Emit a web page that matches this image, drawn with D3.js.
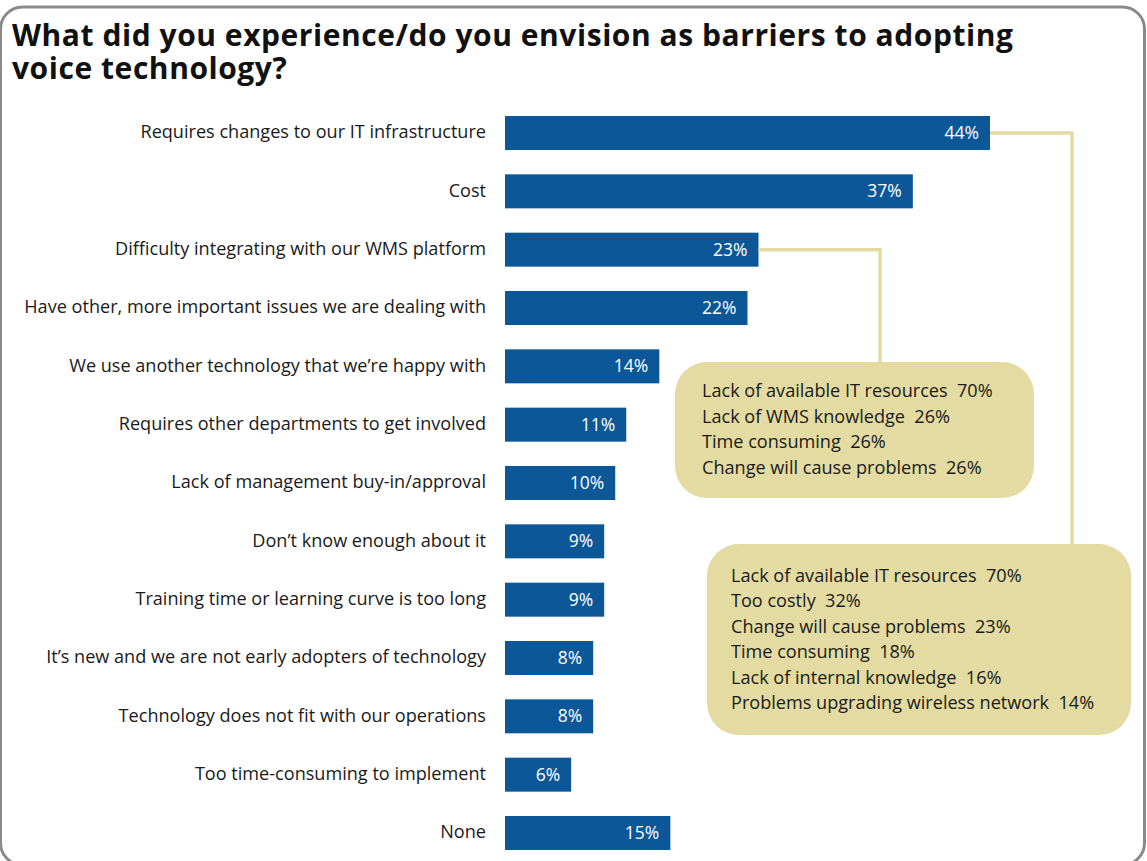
<!DOCTYPE html>
<html>
<head>
<meta charset="utf-8">
<script src="https://cdn.jsdelivr.net/npm/d3@7"></script>
<style>
  body { margin: 0; background: #fff; }
  svg { display: block; font-family: "Open Sans", "Noto Sans", sans-serif; }
</style>
</head>
<body>
<div id="chart"></div>
<script>
var titleLines = ["What did you experience/do you envision as barriers to adopting",
                  "voice technology?"];

var categories = [
  "Requires changes to our IT infrastructure",
  "Cost",
  "Difficulty integrating with our WMS platform",
  "Have other, more important issues we are dealing with",
  "We use another technology that we\u2019re happy with",
  "Requires other departments to get involved",
  "Lack of management buy-in/approval",
  "Don\u2019t know enough about it",
  "Training time or learning curve is too long",
  "It\u2019s new and we are not early adopters of technology",
  "Technology does not fit with our operations",
  "Too time-consuming to implement",
  "None"
];
var values = [44, 37, 23, 22, 14, 11, 10, 9, 9, 8, 8, 6, 15];

// follow-up breakdowns attached to two of the bars
var wmsBreakdown = [
  "Lack of available IT resources  70%",
  "Lack of WMS knowledge  26%",
  "Time consuming  26%",
  "Change will cause problems  26%"
];
var infraBreakdown = [
  "Lack of available IT resources  70%",
  "Too costly  32%",
  "Change will cause problems  23%",
  "Time consuming  18%",
  "Lack of internal knowledge  16%",
  "Problems upgrading wireless network  14%"
];

var W = 1147, H = 861;
var barColor = "#0c5797", calloutFill = "#e3dba1", calloutLine = "#e3dba1";

var svg = d3.select("#chart").append("svg")
    .attr("width", W).attr("height", H);

// frame, bottom edge runs just past the picture
svg.append("rect")
    .attr("x", 0.5).attr("y", 7).attr("width", 1144).attr("height", 858)
    .attr("rx", 22).attr("ry", 22)
    .attr("fill", "#fff").attr("stroke", "#8a8a8a").attr("stroke-width", 3);

svg.append("g").selectAll("text")
    .data(titleLines).join("text")
    .attr("x", 12).attr("y", function(d, i) { return 46 + i * 33; })
    .attr("font-size", 30).attr("font-weight", "bold").attr("fill", "#111")
    .attr("letter-spacing", 0.55)
    .text(function(d) { return d; });

var x = d3.scaleLinear().domain([0, 44]).range([505, 990]);
var y = d3.scaleBand().domain(categories).range([116, 850]).paddingInner(24.33 / 58.33).paddingOuter(0);

var rows = svg.append("g").selectAll("g")
    .data(categories).join("g");

rows.append("rect")
    .attr("x", x(0))
    .attr("y", function(d) { return y(d); })
    .attr("width", function(d, i) { return x(values[i]) - x(0); })
    .attr("height", y.bandwidth())
    .attr("fill", barColor);

rows.append("text")
    .attr("x", 486)
    .attr("y", function(d) { return y(d) + y.bandwidth() / 2 - 1; })
    .attr("dy", "0.35em")
    .attr("text-anchor", "end")
    .attr("font-size", 18.1).attr("fill", "#1a1a1a")
    .text(function(d) { return d; });

rows.append("text")
    .attr("x", function(d, i) { return x(values[i]) - 11; })
    .attr("y", function(d) { return y(d) + y.bandwidth() / 2; })
    .attr("dy", "0.35em")
    .attr("text-anchor", "end")
    .attr("font-size", 17.5).attr("fill", "#fff")
    .text(function(d, i) { return values[i] + "%"; });

function callout(cat, elbowX, box, lines) {
  var cy = y(cat) + y.bandwidth() / 2;
  var v = values[categories.indexOf(cat)];
  svg.append("path")
      .attr("d", "M" + x(v) + "," + cy + "H" + elbowX + "V" + (box.y + 2))
      .attr("fill", "none").attr("stroke", calloutLine).attr("stroke-width", 3.5);
  svg.append("rect")
      .attr("x", box.x).attr("y", box.y).attr("width", box.w).attr("height", box.h)
      .attr("rx", 32).attr("ry", 32).attr("fill", calloutFill);
  svg.append("g").selectAll("text")
      .data(lines).join("text")
      .attr("x", box.x + box.pad)
      .attr("y", function(d, i) { return box.first + i * box.step; })
      .attr("font-size", 18.1).attr("fill", "#1a1a1a")
      .style("white-space", "pre")
      .text(function(d) { return d; });
}

callout(categories[2], 880, {x: 675, y: 362, w: 359, h: 136, pad: 27, first: 397, step: 25.7}, wmsBreakdown);
callout(categories[0], 1072, {x: 707, y: 544, w: 424, h: 191, pad: 24, first: 582, step: 25.4}, infraBreakdown);
</script>
</body>
</html>
